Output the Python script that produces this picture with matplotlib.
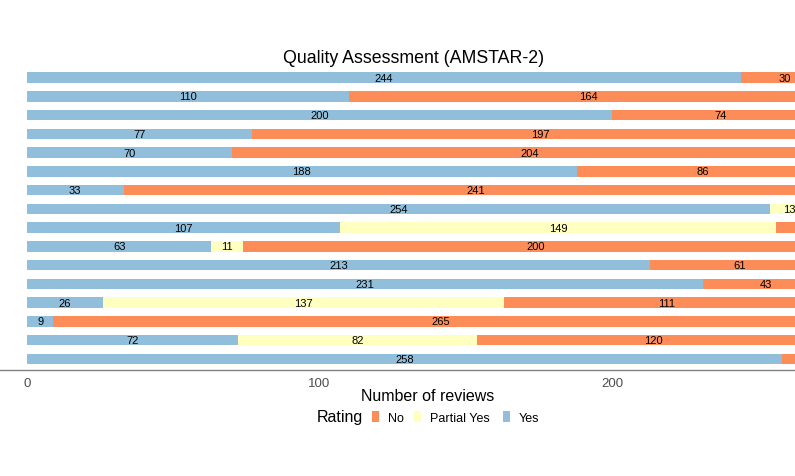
import numpy as np
import matplotlib.pyplot as plt
from matplotlib.patches import Rectangle

plt.rcParams['font.family'] = ['Liberation Sans', 'DejaVu Sans']

# rows from top to bottom
yes_vals = [244, 110, 200, 77, 70, 188, 33, 254, 107, 63, 213, 231, 26, 9, 72, 258]
partial_vals = [0, 0, 0, 0, 0, 0, 0, 13, 149, 11, 0, 0, 137, 0, 82, 0]
no_vals = [30, 164, 74, 197, 204, 86, 241, 7, 18, 200, 61, 43, 111, 265, 120, 16]
ratings = ['No', 'Partial Yes', 'Yes']
colors = {'No': '#FC8D59', 'Partial Yes': '#FFFFBF', 'Yes': '#91BFDB'}

W, H = 795, 477
fig = plt.figure(figsize=(W / 100, H / 100), dpi=100)

# panel: bottom spine at y=371px, runs past the right edge of the picture
ax_bottom = 1 - 371 / H
ax_height = 303.6 / H
ax = fig.add_axes([0, ax_bottom, 1, ax_height])

n = len(yes_vals)
ypos = np.arange(n)[::-1]
bar_h = 0.56
xmax = (W - 27) / 2.925

yes = np.array(yes_vals)
part = np.array(partial_vals)
no = np.array(no_vals)

segments = [('Yes', yes, np.zeros(n)), ('Partial Yes', part, yes), ('No', no, yes + part)]
for name, vals, left in segments:
    ax.barh(ypos, vals, left=left, height=bar_h, color=colors[name], linewidth=0)
    for y, v, l in zip(ypos, vals, left):
        # labels centred past the visible edge are cropped away in the original
        if v > 0 and l + v / 2 < xmax:
            ax.text(l + v / 2, y, str(v), ha='center', va='center', fontsize=8,
                    color='black', clip_on=True)

ax.set_xlim(-27 / 2.925, xmax)
ax.set_ylim(-0.6, n - 0.4)
ax.set_xticks([0, 100, 200])
ax.tick_params(axis='x', length=0, pad=5, labelsize=9.5, labelcolor='#4d4d4d')
ax.set_yticks([])
for s in ['top', 'right', 'left']:
    ax.spines[s].set_visible(False)
ax.spines['bottom'].set_color('#808080')
ax.spines['bottom'].set_linewidth(1)

fig.text(413.5 / W, 1 - 62.7 / H, 'Quality Assessment (AMSTAR-2)', ha='center',
         va='baseline', fontsize=12.8)
fig.text(428 / W, 1 - 400.7 / H, 'Number of reviews', ha='center', va='baseline',
         fontsize=11.5)

# legend laid out in one row, title on the left
fig.text(362.7 / W, 1 - 422 / H, 'Rating', ha='right', va='baseline', fontsize=11.5)
key_x = {'No': 372, 'Partial Yes': 414, 'Yes': 503}
text_x = {'No': 388, 'Partial Yes': 430, 'Yes': 519}
for name in ratings:
    fig.patches.append(Rectangle((key_x[name] / W, 1 - 423 / H), 7 / W, 11 / H,
                                 transform=fig.transFigure, color=colors[name],
                                 linewidth=0))
    fig.text(text_x[name] / W, 1 - 422.5 / H, name, ha='left', va='baseline',
             fontsize=9)

fig.savefig('out.png', dpi=100)
